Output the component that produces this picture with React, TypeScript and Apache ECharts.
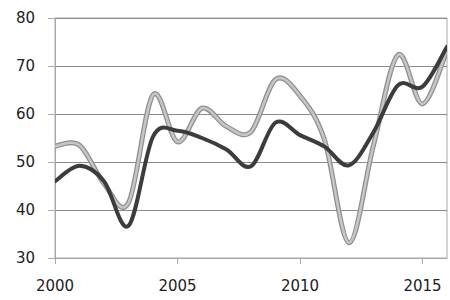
import React, { useEffect, useRef } from "react";
import * as echarts from "echarts";

const years = ["2000","2001","2002","2003","2004","2005","2006","2007","2008","2009","2010","2011","2012","2013","2014","2015","2016"];
const darkSeries = [46.0, 49.2, 46.0, 36.7, 55.3, 56.5, 55.0, 52.6, 49.1, 58.2, 55.6, 53.2, 49.3, 56.2, 66.0, 65.7, 74.0];
const graySeries = [53.3, 53.5, 45.5, 41.5, 64.0, 54.2, 61.2, 57.4, 56.3, 67.2, 63.8, 54.6, 33.2, 53.5, 72.3, 62.1, 73.3];

function splineSeries(values: number[], styles: { stroke: string; lineWidth: number }[], z: number) {
  return {
    type: "custom",
    z,
    data: values.map((v, i) => [i, v]),
    encode: { x: 0, y: 1 },
    clip: true,
    renderItem: (params: any, api: any) => {
      if (params.dataIndex !== 0) return null;
      const pts = values.map((v, i) => api.coord([i, v]));
      const n = pts.length;
      let d = `M${pts[0][0]},${pts[0][1]}`;
      for (let i = 0; i < n - 1; i++) {
        const p0 = pts[Math.max(i - 1, 0)];
        const p1 = pts[i];
        const p2 = pts[i + 1];
        const p3 = pts[Math.min(i + 2, n - 1)];
        const c1x = p1[0] + (p2[0] - p0[0]) / 6;
        const c1y = p1[1] + (p2[1] - p0[1]) / 6;
        const c2x = p2[0] - (p3[0] - p1[0]) / 6;
        const c2y = p2[1] - (p3[1] - p1[1]) / 6;
        d += ` C${c1x},${c1y} ${c2x},${c2y} ${p2[0]},${p2[1]}`;
      }
      return {
        type: "group",
        children: styles.map((s) => ({
          type: "path",
          shape: { pathData: d },
          style: { fill: "none", stroke: s.stroke, lineWidth: s.lineWidth, lineJoin: "round", lineCap: "round" },
        })),
      };
    },
  };
}

export default function App() {
  const ref = useRef<HTMLDivElement>(null);
  useEffect(() => {
    if (!ref.current) return;
    const chart = echarts.init(ref.current, null, { renderer: "svg" });
    const font = "DejaVu Sans";
    chart.setOption({
      animation: false,
      backgroundColor: "#ffffff",
      grid: { left: 55, right: 3, top: 18, bottom: 42, show: true, borderColor: "#a8a8a8", borderWidth: 1 },
      xAxis: {
        type: "category",
        data: years,
        boundaryGap: false,
        axisLine: { show: true, lineStyle: { color: "#a8a8a8", width: 1 } },
        axisTick: { show: true, interval: 4, length: 6, lineStyle: { color: "#a8a8a8" } },
        axisLabel: { interval: 4, color: "#222", fontFamily: font, fontSize: 15, margin: 20 },
        splitLine: { show: false },
      },
      yAxis: {
        type: "value",
        min: 30,
        max: 80,
        interval: 10,
        axisLine: { show: true, lineStyle: { color: "#a8a8a8", width: 1 } },
        axisTick: { show: true, length: 7, lineStyle: { color: "#a8a8a8" } },
        axisLabel: { color: "#222", fontFamily: font, fontSize: 15, margin: 20 },
        splitLine: { show: true, lineStyle: { color: "#8c8c8c", width: 1 } },
      },
      series: [
        splineSeries(graySeries, [
          { stroke: "#8e8e8e", lineWidth: 5 },
          { stroke: "#c6c6c6", lineWidth: 2.5 },
        ], 2),
        splineSeries(darkSeries, [{ stroke: "#3c3c3c", lineWidth: 4 }], 4),
      ],
    });
    return () => chart.dispose();
  }, []);
  return <div ref={ref} style={{ position: "fixed", left: 0, top: 0, width: 450, height: 300 }} />;
}
